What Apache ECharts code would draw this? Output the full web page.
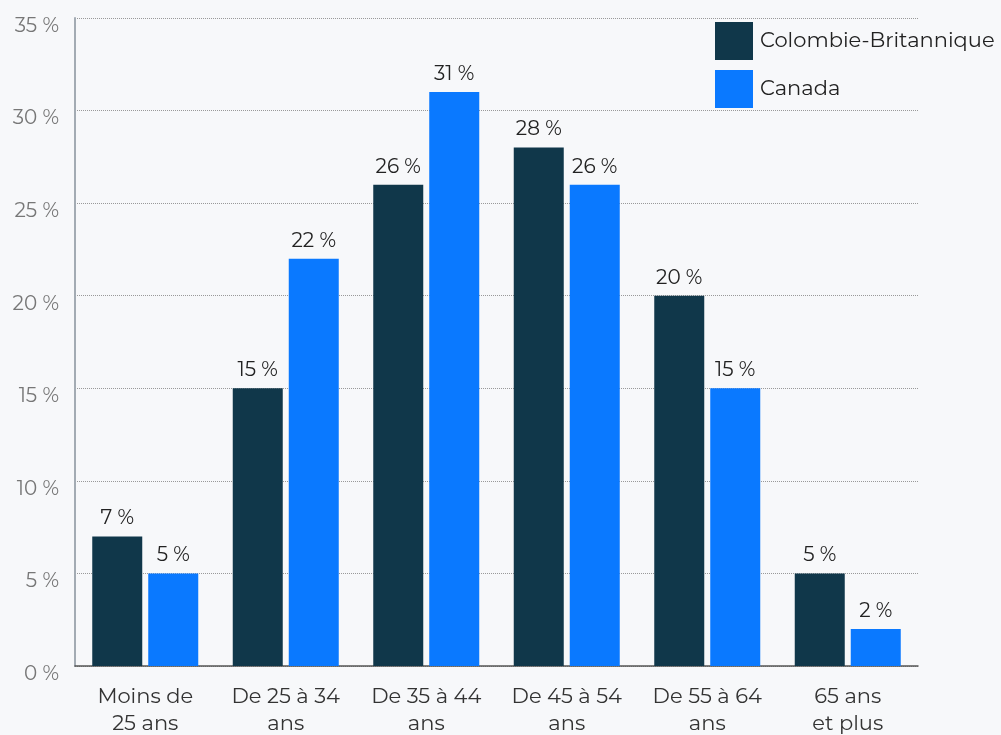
<!DOCTYPE html>
<html><head><meta charset="utf-8">
<script src="https://cdn.jsdelivr.net/npm/echarts@6/dist/echarts.min.js"></script>
<style>html,body{margin:0;padding:0;background:#f7f8fa;}#c{width:1001px;height:735px;}</style>
</head><body><div id="c"></div>
<script>
const categories = ["Moins de\n25 ans", "De 25 à 34\nans", "De 35 à 44\nans", "De 45 à 54\nans", "De 55 à 64\nans", "65 ans\net plus"];
const seriesNames = ["Colombie-Britannique", "Canada"];
const bcValues = [7, 15, 26, 28, 20, 5];
const canadaValues = [5, 22, 31, 26, 15, 2];
const yTicks = [0, 5, 10, 15, 20, 25, 30, 35];

const font = "Montserrat, 'Noto Sans', sans-serif";
const chart = echarts.init(document.getElementById('c'));
const labelStyle = {show: true, position: 'top', distance: 8, color: '#222', fontSize: 20, fontFamily: font, formatter: p => p.value + ' %'};
chart.setOption({
  backgroundColor: '#f7f8fa',
  animation: false,
  grid: {left: 75, right: 83, top: 18, bottom: 69, containLabel: false, outerBoundsMode: 'none'},
  legend: {
    orient: 'vertical', left: 715, top: 22, padding: 0, itemWidth: 38, itemHeight: 38, itemGap: 10,
    icon: 'rect', textStyle: {fontSize: 21, color: '#222', fontFamily: font, padding: [0, 0, 0, 2]},
    data: seriesNames
  },
  xAxis: {
    type: 'category', data: categories,
    axisLine: {lineStyle: {color: '#555', width: 1.5}},
    axisTick: {show: false},
    axisLabel: {color: '#333', fontSize: 21, fontFamily: font, lineHeight: 27, margin: 17, interval: 0}
  },
  yAxis: {
    type: 'value', min: yTicks[0], max: yTicks[yTicks.length-1], interval: 5,
    axisLine: {show: true, lineStyle: {color: '#a3abb3', width: 2}},
    axisTick: {show: false},
    axisLabel: {color: '#777', fontSize: 20, fontFamily: font, margin: 16, verticalAlign: 'top', lineHeight: 16, formatter: v => v + ' %'},
    splitLine: {show: true, lineStyle: {type: 'dotted', color: '#999', width: 1}}
  },
  series: [
    {name: seriesNames[0], type: 'bar', data: bcValues, barWidth: 50, barGap: '12%', itemStyle: {color: '#10374a'}, label: labelStyle},
    {name: seriesNames[1], type: 'bar', data: canadaValues, barWidth: 50, barGap: '12%', itemStyle: {color: '#0a79ff'}, label: labelStyle}
  ]
});
</script></body></html>
